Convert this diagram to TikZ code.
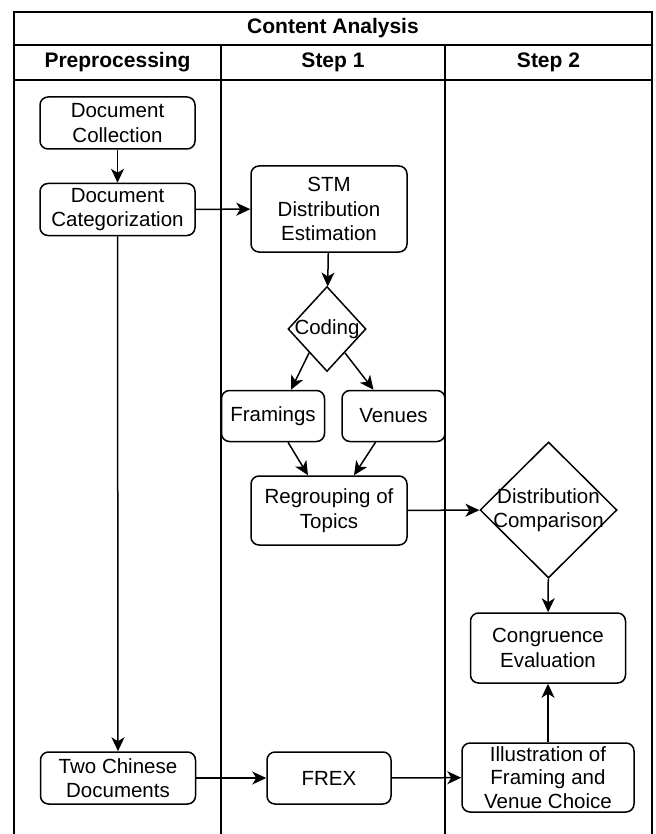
\documentclass[tikz,border=0pt]{standalone}
\usepackage{fontspec}
\setmainfont{Liberation Sans}
\usetikzlibrary{shapes.geometric,arrows.meta,calc}

\begin{document}
\begin{tikzpicture}[x=1pt, y=-1pt, line width=1.5pt,
font=\fontsize{20.5}{24.5}\selectfont,
box/.style={draw, rounded corners=8pt, align=center, inner sep=0pt, minimum width=155pt, minimum height=52pt},
decide/.style={draw, diamond, inner sep=0pt},
flow/.style={-{Stealth[length=14pt, width=13pt, inset=4pt]}},
frame/.style={line width=1.8pt},
lanehead/.style={font=\fontsize{21}{24}\selectfont\bfseries}
]
\useasboundingbox (0,0) rectangle (655,834);

% swimlane frame
\draw[frame] (14,834) -- (14,12) -- (652,12) -- (652,834);
\draw[frame] (14,45) -- (652,45);
\draw[frame] (14,80) -- (652,80);
\draw[frame] (221,45) -- (221,834);
\draw[frame] (445,45) -- (445,834);
\node[lanehead] (title) at (333,28.5) {Content Analysis};
\node[lanehead] (lanea) at (117.5,62.5) {Preprocessing};
\node[lanehead] (laneb) at (333,62.5) {Step 1};
\node[lanehead] (lanec) at (548.5,62.5) {Step 2};

% preprocessing
\node[box] (coll) at (117.5,123) {Document\\Collection};
\node[box] (categ) at (117.5,209.5) {Document\\Categorization};
\node[box] (twochin) at (118,778) {Two Chinese\\Documents};

% step 1
\node[box, minimum width=156pt, minimum height=86pt] (stm) at (329,209) {STM\\Distribution\\Estimation};
\node[decide, minimum width=78pt, minimum height=85pt, label=center:{Coding}] (coding) at (327,329) {};
\node[box, minimum width=103pt, minimum height=51pt] (fram) at (273,416) {Framings};
\node[box, minimum width=103pt, minimum height=51pt] (venue) at (393.5,416) {Venues};
\node[box, minimum width=156pt, minimum height=69pt] (regroup) at (329,510.5) {Regrouping of\\Topics};
\node[box, minimum width=124pt] (frex) at (329,778) {FREX};

% step 2
\node[decide, minimum width=137pt, minimum height=136pt, label={[align=center]center:Distribution\\Comparison}] (distcomp) at (548.5,510) {};
\node[box, minimum height=70pt] (congr) at (548,648) {Congruence\\Evaluation};
\node[box, minimum width=172pt, minimum height=69pt, font=\fontsize{20.5}{23.5}\selectfont] (illus) at (548,777.5) {Illustration of\\Framing and\\Venue Choice};

% connectors
\draw[flow] (coll) -- (categ);
\draw[flow] (categ) -- (stm);
\draw[flow] (categ) -- (twochin);
\draw[flow] (stm) -- (coding);
\draw[flow] ($(coding.south)!0.45!(coding.west)$) -- ($(fram.north)+(18,0)$);
\draw[flow] ($(coding.south)!0.45!(coding.east)$) -- ($(venue.north)+(-20,0)$);
\draw[flow] ($(fram.south)+(15,0)$) -- ($(regroup.north)+(-21,0)$);
\draw[flow] ($(venue.south)+(-18,0)$) -- ($(regroup.north)+(25,0)$);
\draw[flow] (regroup) -- (distcomp);
\draw[flow] (distcomp) -- (congr);
\draw[flow] (illus) -- (congr);
\draw[flow] (twochin) -- (frex);
\draw[flow] (frex) -- (illus);
\end{tikzpicture}
\end{document}
